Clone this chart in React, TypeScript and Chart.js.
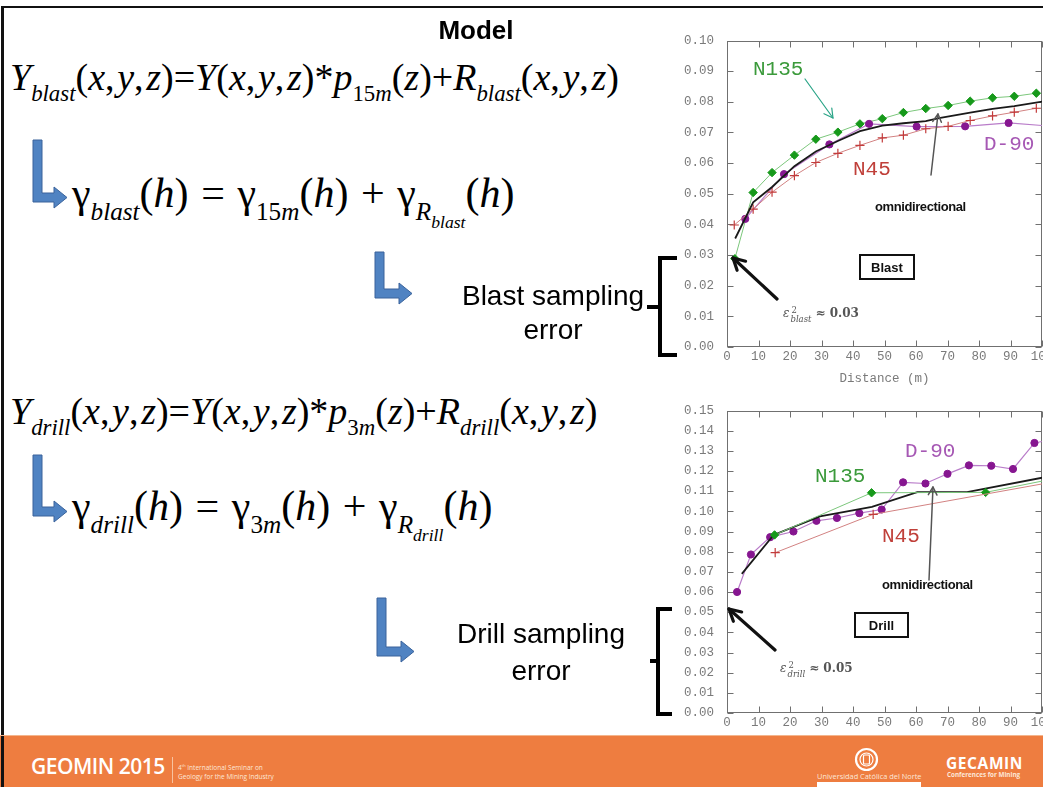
import React, { useEffect, useRef } from "react";
import { Chart, registerables } from "chart.js";

Chart.register(...registerables);

// ---------------- data ----------------
// Blast variograms
const blastN135Dist = [2.5, 8.3, 14.3, 21.4, 28.2, 35.2, 42.2, 49.3, 56.0, 63.1, 70.2, 77.2, 84.3, 91.2, 98.2];
const blastN135Gamma = [0.0288, 0.0504, 0.0569, 0.0626, 0.0678, 0.0701, 0.0728, 0.0745, 0.0765, 0.0778, 0.0788, 0.0802, 0.0813, 0.0818, 0.0828];
const blastD90Dist = [5.8, 18.1, 32.5, 45.1, 60.2, 75.6, 89.4, 103.5];
const blastD90Gamma = [0.0418, 0.0564, 0.0661, 0.0728, 0.0719, 0.072, 0.0731, 0.072];
const blastN45Dist = [2.3, 8.3, 14.3, 21.4, 28.2, 35.2, 42.2, 49.3, 56.0, 63.1, 70.2, 77.2, 84.3, 91.2, 98.2];
const blastN45Gamma = [0.0398, 0.045, 0.0505, 0.0559, 0.0602, 0.0632, 0.0658, 0.0682, 0.0691, 0.0712, 0.072, 0.0739, 0.0754, 0.0766, 0.0779];
const blastOmniDist = [2.6, 8.3, 14.3, 21.4, 28.2, 35.2, 42.2, 49.3, 56.0, 63.1, 67.3, 77.2, 84.3, 91.2, 100.7];
const blastOmniGamma = [0.0354, 0.0472, 0.0522, 0.059, 0.0638, 0.0672, 0.0704, 0.0722, 0.073, 0.0737, 0.0747, 0.0765, 0.0777, 0.0786, 0.0802];

// Drill variograms
const drillD90Dist = [3.2, 7.6, 13.7, 21.1, 28.4, 34.9, 42.0, 49.1, 55.9, 63.0, 70.0, 76.8, 83.9, 90.8, 97.6, 104.5];
const drillD90Gamma = [0.06, 0.0786, 0.0872, 0.09, 0.0953, 0.0967, 0.0991, 0.1009, 0.1144, 0.1138, 0.1186, 0.1228, 0.1226, 0.121, 0.1339, 0.136];
const drillN135Dist = [15.1, 45.9, 82.1, 118.3];
const drillN135Gamma = [0.0883, 0.1092, 0.1094, 0.1207];
const drillN45Dist = [15.3, 46.4, 108.6];
const drillN45Gamma = [0.0795, 0.0985, 0.116];
const drillOmniDist = [4.7, 14.8, 29.5, 46.0, 60.4, 76.2, 100.5];
const drillOmniGamma = [0.069, 0.0883, 0.0975, 0.1022, 0.1095, 0.1095, 0.1168];

const distanceRange = [0, 100];
const blastGammaRange = [0, 0.1];
const drillGammaRange = [0, 0.15];
const distanceStep = 10;
const gammaStep = 0.01;

// ---------------- styles ----------------
const MONO = "'Liberation Mono', 'Courier New', monospace";
const SANS = "'Liberation Sans', Arial, sans-serif";
const SERIF = "'Liberation Serif', 'Times New Roman', serif";

const SERIES_STYLE: Record<string, any> = {
  n135: { borderColor: "#7cc77c", borderWidth: 1, pointStyle: "rectRot", pointRadius: 4.2, pointBackgroundColor: "#16991a", pointBorderColor: "#16991a", pointBorderWidth: 1 },
  d90: { borderColor: "#b97cc9", borderWidth: 1.2, pointStyle: "circle", pointRadius: 3.6, pointBackgroundColor: "#861690", pointBorderColor: "#861690", pointBorderWidth: 1 },
  n45: { borderColor: "#d28282", borderWidth: 1, pointStyle: "cross", pointRadius: 4.6, pointBackgroundColor: "#c23b3b", pointBorderColor: "#c23b3b", pointBorderWidth: 1.2 },
  omni: { borderColor: "#1a1a1a", borderWidth: 1.8, pointRadius: 0 },
};

function pts(xs: number[], ys: number[]) {
  return xs.map((x, i) => ({ x, y: ys[i] }));
}

const frameTicks = {
  id: "frameTicks",
  beforeDatasetsDraw(chart: any) {
    const { ctx, chartArea: a, scales } = chart;
    ctx.save();
    ctx.strokeStyle = "#707070";
    ctx.lineWidth = 1;
    const L = Math.round(a.left) + 0.5, R = Math.round(a.right) - 0.5;
    const T = Math.round(a.top) + 0.5, B = Math.round(a.bottom) - 0.5;
    ctx.strokeRect(L, T, R - L, B - T);
    ctx.beginPath();
    scales.x.ticks.forEach((t: any) => {
      const px = Math.round(scales.x.getPixelForValue(t.value)) + 0.5;
      ctx.moveTo(px, B); ctx.lineTo(px, B - 6);
      ctx.moveTo(px, T); ctx.lineTo(px, T + 6);
    });
    scales.y.ticks.forEach((t: any) => {
      const py = Math.round(scales.y.getPixelForValue(t.value)) + 0.5;
      ctx.moveTo(L, py); ctx.lineTo(L + 6, py);
      ctx.moveTo(R, py); ctx.lineTo(R - 6, py);
    });
    ctx.stroke();
    ctx.restore();
  },
};

type SeriesDef = { label: string; kind: string; xs: number[]; ys: number[] };

function VarioChart(props: {
  left: number; top: number; width: number; height: number;
  padTop: number; axisHeight: number; yRange: number[]; series: SeriesDef[]; xTitle?: string;
}) {
  const ref = useRef<HTMLCanvasElement>(null);
  useEffect(() => {
    if (!ref.current) return;
    const tickFont = { family: MONO, size: 12.5 };
    const chart = new Chart(ref.current, {
      type: "scatter",
      data: {
        datasets: props.series.map((s) => ({
          label: s.label,
          data: pts(s.xs, s.ys),
          showLine: true,
          tension: 0,
          ...SERIES_STYLE[s.kind],
        })),
      },
      options: {
        animation: false,
        responsive: false,
        maintainAspectRatio: false,
        layout: { padding: { left: 0, right: 20, top: props.padTop, bottom: 0 } },
        plugins: { legend: { display: false }, tooltip: { enabled: false } },
        scales: {
          x: {
            type: "linear",
            min: distanceRange[0],
            max: distanceRange[1],
            ticks: { stepSize: distanceStep, font: tickFont, color: "#7a7a7a", padding: 2, maxRotation: 0, autoSkip: false },
            grid: { display: false, drawTicks: false },
            border: { display: false },
            title: { display: !!props.xTitle, text: props.xTitle || "", font: tickFont, color: "#7a7a7a", padding: { top: 2, bottom: 4 } },
            afterFit: (s: any) => { s.height = props.axisHeight; },
          },
          y: {
            type: "linear",
            min: props.yRange[0],
            max: props.yRange[1],
            ticks: { stepSize: gammaStep, font: tickFont, color: "#7a7a7a", padding: 13, callback: (v: any) => Number(v).toFixed(2) },
            grid: { display: false, drawTicks: false },
            border: { display: false },
            afterFit: (s: any) => { s.width = 67; },
          },
        },
      } as any,
      plugins: [frameTicks],
    });
    return () => chart.destroy();
  }, []);
  return (
    <canvas
      ref={ref}
      width={props.width}
      height={props.height}
      style={{ position: "absolute", left: props.left, top: props.top, width: props.width, height: props.height }}
    />
  );
}

// ---------------- small drawing helpers ----------------
function LArrow({ x, y, w, h }: { x: number; y: number; w: number; h: number }) {
  const t = 9, hh = 21, hl = 13;
  const cy = y + h - hh / 2;
  const d = `M${x},${y} L${x + t},${y} L${x + t},${cy - t / 2} L${x + w - hl},${cy - t / 2} L${x + w - hl},${cy - hh / 2} L${x + w},${cy} L${x + w - hl},${cy + hh / 2} L${x + w - hl},${cy + t / 2} L${x},${cy + t / 2} Z`;
  return <path d={d} fill="#5083c2" stroke="#3a639b" strokeWidth={1} />;
}

function Arrow({ x1, y1, x2, y2, color, w, head }: { x1: number; y1: number; x2: number; y2: number; color: string; w: number; head: number }) {
  const a = Math.atan2(y2 - y1, x2 - x1);
  const s = 0.5;
  const p1 = [x2 - head * Math.cos(a - s), y2 - head * Math.sin(a - s)];
  const p2 = [x2 - head * Math.cos(a + s), y2 - head * Math.sin(a + s)];
  return (
    <g stroke={color} strokeWidth={w} fill="none" strokeLinecap="round" strokeLinejoin="round">
      <line x1={x1} y1={y1} x2={x2} y2={y2} />
      <polyline points={`${p1[0]},${p1[1]} ${x2},${y2} ${p2[0]},${p2[1]}`} />
    </g>
  );
}

const Sub = ({ children, size = 0.6, drop = 0.5 }: any) => (
  <span style={{ fontSize: `${size}em`, position: "relative", top: `${drop}em` }}>{children}</span>
);

const I = ({ children }: any) => <i>{children}</i>;
const C = () => <span style={{ marginRight: "0.07em" }}>,</span>;

function Abs({ x, y, style, children }: any) {
  return <div style={{ position: "absolute", left: x, top: y, whiteSpace: "nowrap", ...style }}>{children}</div>;
}

function Eps({ x, y, sub, val }: { x: number; y: number; sub: string; val: string }) {
  return (
    <Abs x={x} y={y} style={{ fontFamily: "'DejaVu Serif', serif", fontSize: 12, lineHeight: "12px", color: "#555", display: "flex", alignItems: "center" }}>
      <i>ε</i>
      <span style={{ display: "inline-flex", flexDirection: "column", alignItems: "flex-start", marginLeft: 1, fontSize: 8.5, lineHeight: "9px", position: "relative", top: 2 }}>
        <span style={{ paddingLeft: 1 }}>2</span>
        <i>{sub}</i>
      </span>
      <span style={{ fontWeight: "bold", marginLeft: 4 }}>≈ {val}</span>
    </Abs>
  );
}

export default function App() {
  const blastSeries: SeriesDef[] = [
    { label: "omnidirectional", kind: "omni", xs: blastOmniDist, ys: blastOmniGamma },
    { label: "N45", kind: "n45", xs: blastN45Dist, ys: blastN45Gamma },
    { label: "D-90", kind: "d90", xs: blastD90Dist, ys: blastD90Gamma },
    { label: "N135", kind: "n135", xs: blastN135Dist, ys: blastN135Gamma },
  ];
  const drillSeries: SeriesDef[] = [
    { label: "N45", kind: "n45", xs: drillN45Dist, ys: drillN45Gamma },
    { label: "N135", kind: "n135", xs: drillN135Dist, ys: drillN135Gamma },
    { label: "omnidirectional", kind: "omni", xs: drillOmniDist, ys: drillOmniGamma },
    { label: "D-90", kind: "d90", xs: drillD90Dist, ys: drillD90Gamma },
  ];

  const eq1Style = { fontFamily: SERIF, fontSize: 38, lineHeight: "38px", color: "#000" };
  const eq2Style = { fontFamily: SERIF, fontSize: 42, lineHeight: "42px", color: "#000", wordSpacing: "0.05em" };
  const monoLbl = (c: string) => ({ fontFamily: MONO, fontSize: 21, lineHeight: "21px", color: c });
  const omniStyle = { fontFamily: SANS, fontWeight: "bold", fontSize: 13, lineHeight: "13px", letterSpacing: -0.4, color: "#111" };
  const boxStyle = {
    width: 56, height: 26, border: "2px solid #111", boxSizing: "border-box" as const, display: "flex",
    alignItems: "center", justifyContent: "center", fontFamily: SANS, fontWeight: "bold", fontSize: 13, color: "#111", background: "#fff",
  };

  return (
    <div style={{ position: "fixed", left: 0, top: 0, width: 1043, height: 787, overflow: "hidden", background: "#fff" }}>
      <VarioChart left={660} top={20} width={402} height={370} padTop={15} axisHeight={43} yRange={blastGammaRange} series={blastSeries} xTitle="Distance (m)" />
      <VarioChart left={660} top={390} width={402} height={346} padTop={12} axisHeight={23} yRange={drillGammaRange} series={drillSeries} />

      {/* slide frame */}
      <div style={{ position: "absolute", left: 1, top: 6, width: 3, height: 781, background: "#111" }} />
      <div style={{ position: "absolute", left: 1, top: 6, width: 1042, height: 2, background: "#111" }} />

      {/* title */}
      <Abs x={0} y={17} style={{ width: 952, textAlign: "center", fontFamily: SANS, fontWeight: "bold", fontSize: 26, lineHeight: "26px" }}>Model</Abs>

      {/* equations */}
      <Abs x={10} y={58} style={eq1Style}>
        <I>Y</I><Sub><I>blast</I></Sub>(<I>x</I><C /><I>y</I><C /><I>z</I>)=<I>Y</I>(<I>x</I><C /><I>y</I><C /><I>z</I>)*<I>p</I><Sub>15<I>m</I></Sub>(<I>z</I>)+<I>R</I><Sub><I>blast</I></Sub>(<I>x</I><C /><I>y</I><C /><I>z</I>)
      </Abs>
      <Abs x={72} y={172} style={eq2Style}>
        γ<Sub><I>blast</I></Sub>(<I>h</I>) = γ<Sub>15<I>m</I></Sub>(<I>h</I>) + γ<Sub><I>R</I><Sub size={0.7} drop={0.45}><I>blast</I></Sub></Sub>(<I>h</I>)
      </Abs>
      <Abs x={10} y={392} style={eq1Style}>
        <I>Y</I><Sub><I>drill</I></Sub>(<I>x</I><C /><I>y</I><C /><I>z</I>)=<I>Y</I>(<I>x</I><C /><I>y</I><C /><I>z</I>)*<I>p</I><Sub>3<I>m</I></Sub>(<I>z</I>)+<I>R</I><Sub><I>drill</I></Sub>(<I>x</I><C /><I>y</I><C /><I>z</I>)
      </Abs>
      <Abs x={72} y={485} style={eq2Style}>
        γ<Sub><I>drill</I></Sub>(<I>h</I>) = γ<Sub>3<I>m</I></Sub>(<I>h</I>) + γ<Sub><I>R</I><Sub size={0.7} drop={0.45}><I>drill</I></Sub></Sub>(<I>h</I>)
      </Abs>

      {/* sampling error texts */}
      <Abs x={403} y={279} style={{ width: 300, textAlign: "center", fontFamily: SANS, fontSize: 28, lineHeight: "34px" }}>
        Blast sampling<br />error
      </Abs>
      <Abs x={391} y={615} style={{ width: 300, textAlign: "center", fontFamily: SANS, fontSize: 28, lineHeight: "37px" }}>
        Drill sampling<br />error
      </Abs>

      {/* chart annotations: blast */}
      <Abs x={753} y={59} style={monoLbl("#3b9a3b")}>N135</Abs>
      <Abs x={984} y={134} style={monoLbl("#a658b4")}>D-90</Abs>
      <Abs x={853} y={159} style={monoLbl("#c0403a")}>N45</Abs>
      <Abs x={875} y={200} style={omniStyle}>omnidirectional</Abs>
      <Abs x={859} y={254} style={boxStyle}>Blast</Abs>
      <Eps x={783} y={304} sub="blast" val="0.03" />

      {/* chart annotations: drill */}
      <Abs x={905} y={441} style={monoLbl("#a658b4")}>D-90</Abs>
      <Abs x={815} y={466} style={monoLbl("#3b9a3b")}>N135</Abs>
      <Abs x={882} y={526} style={monoLbl("#c0403a")}>N45</Abs>
      <Abs x={882} y={578} style={omniStyle}>omnidirectional</Abs>
      <Abs x={854} y={612} style={{ ...boxStyle, width: 55 }}>Drill</Abs>
      <Eps x={780} y={659} sub="drill" val="0.05" />

      <svg width={1043} height={787} style={{ position: "absolute", left: 0, top: 0, pointerEvents: "none" }}>
        <LArrow x={33} y={140} w={34} h={68} />
        <LArrow x={375} y={252} w={37} h={52} />
        <LArrow x={33} y={455} w={34} h={67} />
        <LArrow x={377} y={598} w={37} h={64} />

        <Arrow x1={805} y1={79} x2={833} y2={118} color="#2aa487" w={1.2} head={10} />
        <Arrow x1={931} y1={175} x2={938} y2={114} color="#555" w={1.5} head={9} />
        <Arrow x1={777} y1={299} x2={733} y2={258} color="#111" w={3.2} head={13} />

        <Arrow x1={929} y1={580} x2={933} y2={487} color="#555" w={1.5} head={9} />
        <Arrow x1={775} y1={650} x2={729} y2={609} color="#111" w={3.2} head={13} />

        <path d="M677,258 H660 V355 H677 M647,307 H660" stroke="#000" strokeWidth={4} fill="none" />
        <path d="M672,609 H658 V714 H672 M650,661 H658" stroke="#000" strokeWidth={4} fill="none" />
      </svg>

      {/* footer */}
      <div style={{ position: "absolute", left: 0, top: 735, width: 1043, height: 1, background: "#f4b58c" }} />
      <div style={{ position: "absolute", left: 0, top: 736, width: 1043, height: 51, background: "#ee7d40" }} />
      <div style={{ position: "absolute", left: 1, top: 736, width: 3, height: 51, background: "#111" }} />
      <Abs x={31} y={754} style={{ fontFamily: "'Open Sans', sans-serif", fontWeight: 600, fontSize: 21, lineHeight: "24px", color: "#fff", letterSpacing: -0.5 }}>GEOMIN 2015</Abs>
      <div style={{ position: "absolute", left: 172, top: 757, width: 1, height: 26, background: "#f7c3a0" }} />
      <Abs x={178} y={761} style={{ fontFamily: "'Open Sans', sans-serif", fontSize: 6.5, lineHeight: "9px", color: "#fde7d8" }}>
        4<sup style={{ fontSize: 4 }}>th</sup> International Seminar on<br />Geology for the Mining Industry
      </Abs>
      <svg width={1043} height={787} style={{ position: "absolute", left: 0, top: 0, pointerEvents: "none" }}>
        <circle cx={866.5} cy={759.5} r={10.5} fill="none" stroke="#fff" strokeWidth={2.2} />
        <circle cx={866.5} cy={759.5} r={6.5} fill="none" stroke="#fff" strokeWidth={1.2} />
        <rect x={863.5} y={755} width={6} height={9} fill="none" stroke="#fff" strokeWidth={1.2} rx={1} />
        <rect x={817} y={782} width={104} height={5} fill="#fff" />
      </svg>
      <Abs x={817} y={772} style={{ width: 104, textAlign: "center", fontFamily: "'Open Sans', sans-serif", fontSize: 7.4, lineHeight: "9px", color: "#fde7d8" }}>
        Universidad Católica del Norte
      </Abs>
      <Abs x={946} y={755} style={{ fontFamily: "'Open Sans', sans-serif", fontWeight: 700, fontSize: 15.5, lineHeight: "16px", color: "#fff", letterSpacing: 0.6 }}>GECAMIN</Abs>
      <Abs x={947} y={771} style={{ fontFamily: "'Open Sans', sans-serif", fontWeight: 700, fontSize: 6.3, lineHeight: "8px", color: "#fde7d8" }}>Conferences for Mining</Abs>
    </div>
  );
}
